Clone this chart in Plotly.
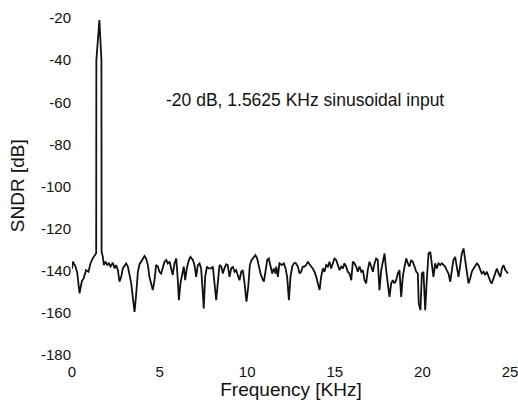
import plotly.graph_objects as go

freq_khz = [0.0, 0.05, 0.2, 0.3, 0.43, 0.56, 0.67, 0.8, 0.94, 1.06, 1.19, 1.32, 1.38,
            1.39, 1.5625, 1.68, 1.69,
            1.76, 1.82, 1.91, 2.01, 2.1, 2.2, 2.33, 2.43, 2.52, 2.62, 2.71, 2.81, 2.9, 3.0, 3.09, 3.19,
            3.28, 3.38, 3.47, 3.57, 3.66, 3.76, 3.85, 3.99, 4.14, 4.23, 4.33, 4.42, 4.52, 4.61, 4.71,
            4.8, 4.9, 4.99, 5.09, 5.18, 5.28, 5.38, 5.47, 5.57, 5.66, 5.75, 5.85, 5.95, 6.04, 6.1, 6.19,
            6.29, 6.38, 6.46, 6.55, 6.67, 6.76, 6.9, 6.99, 7.09, 7.18, 7.28, 7.37, 7.47, 7.52, 7.6, 7.7,
            7.79, 7.94, 8.04, 8.13, 8.23, 8.32, 8.42, 8.52, 8.61, 8.7, 8.8, 8.89, 8.99, 9.09, 9.18, 9.28,
            9.37, 9.46, 9.56, 9.66, 9.75, 9.85, 9.96, 10.06, 10.15, 10.25, 10.38, 10.47, 10.57, 10.66,
            10.76, 10.86, 10.95, 11.04, 11.14, 11.23, 11.33, 11.43, 11.52, 11.62, 11.66, 11.75, 11.84,
            11.98, 12.09, 12.19, 12.28, 12.38, 12.47, 12.57, 12.66, 12.76, 12.89, 12.99, 13.08, 13.17,
            13.27, 13.37, 13.46, 13.56, 13.65, 13.74, 13.84, 13.94, 14.03, 14.13, 14.22, 14.32, 14.41,
            14.51, 14.6, 14.7, 14.79, 14.89, 14.98, 15.08, 15.17, 15.27, 15.37, 15.46, 15.55, 15.65,
            15.74, 15.84, 15.94, 16.03, 16.12, 16.22, 16.31, 16.41, 16.51, 16.6, 16.7, 16.79, 16.88,
            16.98, 17.08, 17.17, 17.27, 17.36, 17.45, 17.55, 17.65, 17.74, 17.84, 17.93, 18.03, 18.12,
            18.22, 18.31, 18.41, 18.5, 18.6, 18.69, 18.79, 18.88, 18.98, 19.08, 19.17, 19.26, 19.36,
            19.45, 19.55, 19.65, 19.74, 19.79, 19.89, 19.97, 20.06, 20.16, 20.25, 20.35, 20.45, 20.54,
            20.63, 20.73, 20.82, 20.92, 21.02, 21.11, 21.2, 21.3, 21.39, 21.49, 21.59, 21.68, 21.77,
            21.87, 21.96, 22.06, 22.16, 22.25, 22.35, 22.44, 22.53, 22.63, 22.73, 22.82, 22.92, 23.01,
            23.11, 23.2, 23.3, 23.39, 23.49, 23.58, 23.68, 23.77, 23.89, 23.96, 24.06, 24.16, 24.25,
            24.35, 24.45, 24.54, 24.63, 24.73, 24.83, 24.89]

sndr_db = [-139, -135.7, -138, -141, -150.7, -145, -143.5, -139.7, -140.5, -136.4, -134, -132.6, -131.7,
           -40, -21, -40, -131,
           -133.4, -137.3, -135.7, -137.3, -136.5, -138, -136.2, -138.9, -137.3, -139.7, -145.2, -142.9,
           -138.9, -137.3, -136.5, -138, -141.3, -146, -152.4, -159.5, -151.6, -140.5, -137, -135.3,
           -133, -134.2, -137.3, -142.9, -146, -149.2, -144.5, -137.3, -138, -140.5, -141.3, -138,
           -135.7, -134.9, -136.5, -135.7, -139.7, -142, -136.5, -134.2, -144.5, -154, -146, -141.3,
           -138, -144.5, -138.9, -134.9, -133.4, -134.9, -137.3, -142.9, -137.3, -136.5, -138.9,
           -150.8, -157.9, -142.9, -138, -138.9, -138.9, -138, -144.5, -154, -146, -137.3, -138,
           -141.3, -138.9, -136.9, -137.3, -142.9, -138.9, -138, -140.5, -139.7, -142, -144.5, -140.5,
           -139.7, -146, -154.7, -147.6, -137.3, -134.9, -133.7, -132.6, -134.2, -138, -141.3, -143.6,
           -145.2, -140.5, -134.9, -134.2, -137.3, -141.3, -138.9, -141.3, -138, -142.9, -136.5,
           -137.3, -136.5, -138.9, -142.9, -154, -142.9, -138, -136.5, -136.2, -138, -141.3, -140.5,
           -138, -138, -137.3, -135.7, -137.3, -138, -138.9, -140.5, -142.9, -146, -149.2, -142.9,
           -138.9, -140.5, -137.3, -138, -135.7, -138.9, -136.5, -134.2, -134.9, -137.3, -139.7, -138,
           -138.9, -136.5, -138, -140.5, -141.3, -144.5, -135.7, -136.5, -138, -140.5, -138, -140.5,
           -139.7, -144.5, -146, -139.7, -135.7, -138, -140.5, -136.5, -134.2, -134.9, -149.2, -139.7,
           -135.7, -131.8, -139.7, -146, -152.4, -146, -144.5, -146, -144.5, -141.3, -139.7, -152.4,
           -142.9, -138, -134.2, -136.5, -138, -134.9, -135.7, -138, -140.5, -141.3, -155.5, -158.7,
           -141.3, -140.5, -158.7, -144.5, -131.8, -131, -136.5, -142.9, -136.5, -138.9, -136.5,
           -137.3, -136.5, -137.3, -138, -139.7, -141.3, -145.2, -139.7, -134.9, -133.4, -138, -142.9,
           -137.3, -131.8, -129.4, -134.2, -141.3, -146, -143.6, -140.5, -138.9, -138, -136.5, -137.3,
           -139.7, -141.3, -140.5, -142, -140.5, -142.9, -145.2, -146, -143.6, -142, -138.9, -141.3,
           -142.9, -138.9, -137.3, -139.7, -140.5, -141.3]

x_ticks = [0, 5, 10, 15, 20, 25]
x_tick_text = ["0", "5", "10", "15", "20", "25"]
y_ticks = [-180, -160, -140, -120, -100, -80, -60, -40, -20]
y_tick_text = ["-180", "-160", "-140", "-120", "-100", "-80", "-60", "-40", "-20"]

annotation_text = "-20 dB, 1.5625 KHz sinusoidal input"
x_title = "Frequency [KHz]"
y_title = "SNDR [dB]"

fig = go.Figure()
fig.add_trace(go.Scatter(x=freq_khz, y=sndr_db, mode="lines",
                         line=dict(color="#111111", width=1.8), showlegend=False))

font_family = "Liberation Sans, Arial, sans-serif"
fig.update_layout(
    width=518, height=400,
    margin=dict(l=72, r=8, t=18, b=45, autoexpand=False),
    paper_bgcolor="white", plot_bgcolor="white",
    font=dict(family=font_family, color="#111111", size=15),
    xaxis=dict(range=[0, 25], tickvals=x_ticks, ticktext=x_tick_text, showgrid=False,
               zeroline=False, showline=False, ticks="outside", ticklen=3,
               tickcolor="rgba(0,0,0,0)", tickfont=dict(size=15),
               ticklabeloverflow="allow", automargin=False,
               title=dict(text=x_title, font=dict(size=19), standoff=0)),
    yaxis=dict(range=[-180, -20], tickvals=y_ticks, ticktext=y_tick_text, showgrid=False,
               zeroline=False, showline=False, ticks="", tickfont=dict(size=15),
               ticklabeloverflow="allow", automargin=False),
    annotations=[
        dict(x=13.3, y=-59, xref="x", yref="y", text=annotation_text,
             showarrow=False, font=dict(size=17.5)),
        dict(x=-0.1256, y=0.504, xref="paper", yref="paper", text=y_title, textangle=-90,
             showarrow=False, xanchor="center", yanchor="middle", font=dict(size=19)),
    ],
)

fig.write_html("out.html", config={"displayModeBar": False},
               post_script="document.body.style.margin='0';document.body.style.overflow='hidden';")
